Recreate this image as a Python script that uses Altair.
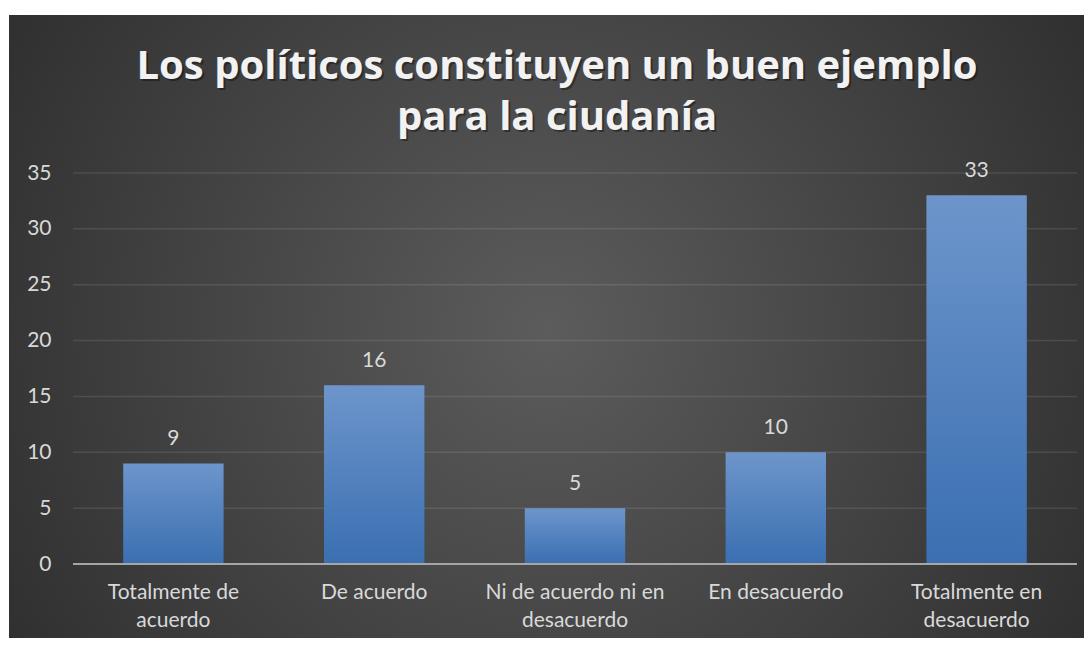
import altair as alt
import pandas as pd

# ---- data ----
categories = [
    "Totalmente de\nacuerdo",
    "De acuerdo",
    "Ni de acuerdo ni en\ndesacuerdo",
    "En desacuerdo",
    "Totalmente en\ndesacuerdo",
]
values = [9, 16, 5, 10, 33]
grid_values = [5, 10, 15, 20, 25, 30, 35]
y_ticks = [0, 5, 10, 15, 20, 25, 30, 35]
title_lines = ["Los políticos constituyen un buen ejemplo", "para la ciudanía"]

W, H = 1004, 391
FONT = "Lato"
TFONT = "Open Sans"

df = pd.DataFrame({"cat": categories, "val": values})
grid_df = pd.DataFrame({"val": grid_values})
one = pd.DataFrame({"d": [0]})

bg_gradient = {
    "gradient": "radial",
    "x1": 0.5, "y1": 0.5, "r1": 0,
    "x2": 0.5, "y2": 0.5, "r2": 0.72,
    "stops": [
        {"offset": 0, "color": "#5c5c5c"},
        {"offset": 1, "color": "#252525"},
    ],
}
bar_gradient = {
    "gradient": "linear",
    "x1": 0, "y1": 0, "x2": 0, "y2": 1,
    "stops": [
        {"offset": 0, "color": "#6d95cb"},
        {"offset": 1, "color": "#3a6fb1"},
    ],
}

x_axis = alt.Axis(
    title=None, labelAngle=0, ticks=False, domain=False, grid=False,
    labelExpr="split(datum.label, '\\n')",
    labelFont=FONT, labelFontSize=21, labelColor="#d9d9d9",
    labelPadding=17, labelLineHeight=28, labelBaseline="top",
    zindex=1,
)
y_axis = alt.Axis(
    title=None, values=y_ticks, ticks=False,
    domain=False, grid=False, labelFont=FONT, labelFontSize=21,
    labelColor="#d9d9d9", labelPadding=22, zindex=1,
)
y_scale = alt.Scale(domain=[0, 35], nice=False)

x_enc = alt.X("cat:N", sort=categories,
              scale=alt.Scale(paddingInner=0.5, paddingOuter=0.25), axis=x_axis)
y_enc = alt.Y("val:Q", scale=y_scale, axis=y_axis)

background = alt.Chart(one).mark_rect(color=bg_gradient).encode(
    x=alt.value(-64), x2=alt.value(W + 10),
    y=alt.value(-158), y2=alt.value(H + 80),
)

grid = alt.Chart(grid_df).mark_rule(color="#ffffff", opacity=0.1, strokeWidth=1.5).encode(
    y=y_enc,
    x=alt.value(0), x2=alt.value(W),
)

bars = alt.Chart(df).mark_bar(color=bar_gradient).encode(x=x_enc, y=y_enc)

labels = alt.Chart(df).mark_text(
    dy=-18, baseline="alphabetic", font=FONT, fontSize=21, color="#d9d9d9"
).encode(x=x_enc, y=y_enc, text="val:Q")

baseline = alt.Chart(one).mark_rule(color="#a6a6a6", strokeWidth=2).encode(
    y=alt.value(H), x=alt.value(0), x2=alt.value(W),
)

title_shadow = alt.Chart(one).mark_text(
    font=TFONT, fontWeight="bold", fontSize=40, color="#000000", opacity=0.35,
    align="center", baseline="alphabetic", lineHeight=51,
).encode(x=alt.value(484 + 2), y=alt.value(-94 + 2), text=alt.value(title_lines))

title = alt.Chart(one).mark_text(
    font=TFONT, fontWeight="bold", fontSize=40, color="#f2f2f2",
    align="center", baseline="alphabetic", lineHeight=51,
).encode(x=alt.value(484), y=alt.value(-94), text=alt.value(title_lines))

chart = alt.layer(background, grid, bars, baseline, labels, title_shadow, title).properties(
    width=W, height=H,
    autosize=alt.AutoSizeParams(type="none"),
    padding={"left": 65, "top": 165, "right": 7, "bottom": 74},
    background="#ffffff",
).configure_view(stroke=None)

chart.save("out.html", embed_options={"renderer": "svg", "actions": False})
